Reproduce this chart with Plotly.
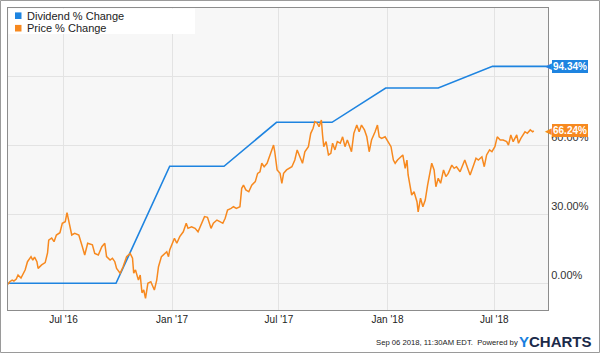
import pandas as pd
import plotly.graph_objects as go

# ---------------- data ----------------
# Price % change: trading-day samples, given as days since 2016-07-01
price_base = "2016-07-01"
price_day = [-94, -91, -87, -84, -80, -77, -72, -69, -65, -61, -55, -52, -49, -45, -43, -37, -31, -27, -25, -20,
             -16, -12, -6, -2, 3, 6, 11, 14, 19, 26, 32, 36, 41, 49, 53, 59, 65, 70, 73, 79,
             83, 87, 90, 96, 101, 107, 113, 117, 119, 122, 127, 130, 133, 136, 139, 143, 148, 154, 158, 161,
             166, 171, 175, 178, 180, 188, 192, 197, 203, 208, 211, 217, 223, 228, 234, 239, 244, 250, 254, 260,
             265, 270, 274, 278, 284, 288, 293, 299, 302, 305, 309, 314, 319, 325, 329, 333, 336, 340, 345, 350,
             356, 358, 362, 367, 370, 373, 378, 387, 392, 396, 401, 405, 409, 415, 419, 423, 426, 430, 433, 437,
             439, 441, 445, 449, 453, 456, 460, 464, 469, 473, 477, 481, 486, 488, 492, 497, 501, 505, 510, 514,
             518, 522, 528, 532, 535, 539, 545, 550, 555, 559, 562, 566, 570, 575, 579, 582, 584, 590, 594, 599,
             601, 605, 609, 613, 617, 621, 624, 628, 631, 635, 639, 644, 648, 652, 658, 662, 666, 672, 676, 680,
             684, 689, 694, 699, 703, 709, 713, 717, 722, 726, 731, 735, 740, 745, 751, 754, 758, 762, 768, 771,
             775, 778, 782, 786, 791, 795, 797]
price_pct = [-0.4, 0.7, 1.4, 1.0, 1.9, 3.6, 2.3, 3.6, 5.8, 9.4, 11.6, 10.1, 11.4, 9.4, 6.5, 8.0, 9.0, 13.2, 18.8, 19.7,
             18.1, 21.0, 22.0, 26.1, 26.8, 30.7, 25.4, 21.0, 21.7, 21.0, 15.9, 12.3, 17.4, 16.7, 13.0, 12.3, 15.9, 17.4, 11.6, 10.1,
             10.9, 9.4, 6.5, 4.4, 7.2, 11.6, 13.0, 10.9, 4.4, 5.8, 1.4, 3.6, -4.1, -2.9, -6.5, 0.0, 0.7, -2.9, 1.4, 7.2,
             11.6, 13.0, 13.7, 11.6, 14.5, 19.6, 17.4, 20.3, 22.4, 26.1, 23.9, 24.6, 23.9, 22.4, 26.1, 29.0, 28.7, 23.9, 26.1, 27.5,
             26.8, 26.1, 28.3, 31.9, 32.6, 33.3, 32.6, 33.3, 41.3, 42.7, 40.6, 39.8, 42.7, 44.2, 47.8, 48.5, 52.2, 50.7, 52.2, 55.8,
             60.1, 57.2, 49.3, 47.8, 43.5, 47.8, 49.3, 50.7, 53.6, 58.0, 55.0, 52.2, 57.2, 59.4, 65.2, 67.4, 70.3, 69.6, 68.1, 71.0,
             64.5, 59.4, 61.6, 55.8, 56.5, 60.9, 58.0, 61.6, 60.9, 63.7, 59.4, 62.3, 58.7, 57.2, 65.2, 68.8, 65.9, 68.8, 66.7, 63.7,
             57.2, 62.3, 65.9, 68.8, 63.7, 63.0, 63.7, 61.6, 59.4, 53.6, 52.2, 53.6, 54.5, 55.8, 50.0, 53.6, 47.1, 38.4, 39.8, 35.5,
             31.1, 37.0, 33.3, 36.2, 42.7, 49.3, 52.2, 49.3, 42.0, 45.7, 43.5, 49.3, 46.4, 47.8, 51.4, 50.0, 50.7, 48.5, 50.7, 53.6,
             50.7, 47.1, 50.7, 54.4, 53.6, 55.0, 50.7, 55.8, 58.0, 57.2, 59.4, 63.7, 62.3, 62.3, 61.6, 60.1, 64.5, 61.6, 64.5, 60.9,
             63.0, 64.5, 65.9, 65.2, 66.7, 65.9, 66.24]

# Dividend % change (step changes, linearly joined)
div_dates = ["2016-03-29", "2016-09-28", "2016-12-28", "2017-03-30", "2017-06-27",
             "2017-09-29", "2017-12-29", "2018-03-28", "2018-06-28", "2018-09-30"]
div_pct = [0, 0, 50.9, 50.9, 70.0, 70.0, 84.9, 84.9, 94.34, 94.34]

series_names = ["Dividend % Change", "Price % Change"]
last_labels = ["94.34%", "66.24%"]

x_tick_vals = ["2016-07-01", "2017-01-01", "2017-07-01", "2018-01-01", "2018-07-01"]
x_tick_text = ["Jul '16", "Jan '17", "Jul '17", "Jan '18", "Jul '18"]
y_tick_vals = [0, 30, 60, 90]
y_tick_text = ["0.00%", "30.00%", "60.00%", ""]

x_range = ["2016-03-29", "2018-09-30"]
y_range = [-11.6, 119.7]

footer = "Sep 06 2018, 11:30AM EDT.  Powered by"

BLUE = "#1e84e0"
ORANGE = "#f7891f"

price_dates = pd.Timestamp(price_base) + pd.to_timedelta(price_day, unit="D")

fig = go.Figure()
fig.add_trace(go.Scatter(x=pd.to_datetime(div_dates), y=div_pct, mode="lines",
                         line=dict(color=BLUE, width=1.6), name=series_names[0],
                         showlegend=False, hoverinfo="skip"))
fig.add_trace(go.Scatter(x=price_dates, y=price_pct, mode="lines",
                         line=dict(color=ORANGE, width=1.5), name=series_names[1],
                         showlegend=False, hoverinfo="skip"))

W, H = 600, 353
ML, MR, MT, MB = 8, 52, 8, 43
PW, PH = W - ML - MR, H - MT - MB

def px(xp):
    return (xp - ML) / PW

def py(yp):
    return (H - MB - yp) / PH

fig.update_layout(
    width=W, height=H,
    margin=dict(l=ML, r=MR, t=MT, b=MB, pad=0),
    paper_bgcolor="white",
    plot_bgcolor="#f7f7f7",
    showlegend=False,
    font=dict(family="Liberation Sans, Arial, sans-serif", color="#222"),
    xaxis=dict(range=x_range, tickvals=x_tick_vals, ticktext=x_tick_text,
               showgrid=True, gridcolor="#e3e3e3", gridwidth=1,
               showline=True, linecolor="#8c8c8c", linewidth=1, mirror=True,
               ticks="", tickfont=dict(size=10, color="#222"), zeroline=False),
    yaxis=dict(range=y_range, side="right", tickvals=y_tick_vals, ticktext=y_tick_text,
               showgrid=True, gridcolor="#e3e3e3", gridwidth=1,
               showline=True, linecolor="#8c8c8c", linewidth=1, mirror=True,
               ticks="", ticklabelposition="outside top",
               tickfont=dict(size=11, color="#333"), zeroline=False),
)

# outer frame
fig.add_shape(type="rect", xref="paper", yref="paper",
              x0=px(0.5), x1=px(W - 0.5), y0=py(H - 0.5), y1=py(0.5),
              line=dict(color="#9a9a9a", width=1), fillcolor="rgba(0,0,0,0)", layer="above")

# legend box
fig.add_shape(type="rect", xref="paper", yref="paper",
              x0=px(8.5), x1=px(195), y0=py(34), y1=py(8.5),
              line=dict(width=0), fillcolor="white", layer="above")
for i, (name, col) in enumerate(zip(series_names, [BLUE, ORANGE])):
    yc = 15.7 + 12.5 * i
    fig.add_shape(type="rect", xref="paper", yref="paper",
                  x0=px(15), x1=px(21.5), y0=py(yc + 3.3), y1=py(yc - 3.3),
                  line=dict(width=0), fillcolor=col, layer="above")
    fig.add_annotation(xref="paper", yref="paper", x=px(25), y=py(yc),
                       xanchor="left", yanchor="middle", showarrow=False,
                       text=name, font=dict(size=11, color="#222"))

# last value badges (pointer first, then the label box on top)
for val, lab, col in zip([div_pct[-1], price_pct[-1]], last_labels, [BLUE, ORANGE]):
    fig.add_annotation(xref="paper", yref="y", x=1, y=val, xanchor="left", yanchor="middle",
                       xshift=-3, showarrow=False, text="◀",
                       font=dict(size=9, color=col, family="DejaVu Sans"),
                       borderpad=0, borderwidth=0)
    fig.add_annotation(xref="paper", yref="y", x=1, y=val, xanchor="left", yanchor="middle",
                       xshift=4, showarrow=False, text="<b>" + lab + "</b>",
                       font=dict(size=10, color="white"), bgcolor=col,
                       borderpad=0, bordercolor=col, borderwidth=1)

# footer
fig.add_annotation(xref="paper", yref="paper", x=px(518), y=py(342), xanchor="right", yanchor="middle",
                   showarrow=False, text=footer, font=dict(size=7.7, color="#222"),
                   borderpad=0, borderwidth=0)
fig.add_annotation(xref="paper", yref="paper", x=px(519), y=py(341), xanchor="left", yanchor="middle",
                   showarrow=False,
                   text="<b><span style='color:#1a7fe0'>Y</span>CHARTS</b>",
                   font=dict(size=15, color="#1b2a49", family="Liberation Sans, Arial, sans-serif"),
                   borderpad=0, borderwidth=0)

fig.write_html("out.html")
